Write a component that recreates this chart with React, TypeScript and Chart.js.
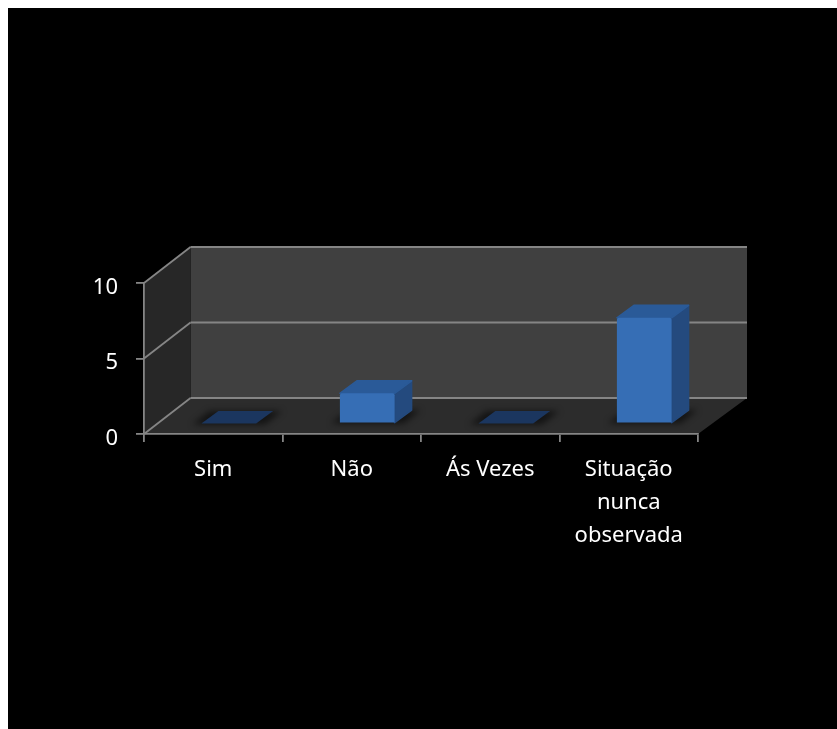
import React, { useEffect, useRef } from "react";
import { Chart, registerables } from "chart.js";

Chart.register(...registerables);

const categories = [["Sim"], ["Não"], ["Ás Vezes"], ["Situação", "nunca", "observada"]];
const seriesValues = [0, 2, 0, 7];
const yTickValues = [0, 5, 10];

const LINE = "#858585";
const WALL_BACK = "#404040";
const WALL_SIDE = "#272727";
const FLOOR = "#2c2c2c";
const BAR_FRONT = "#366eb5";
const BAR_SIDE = "#244a7e";
const BAR_TOP = "#2a5a98";
const BAR_TOP_EMPTY = "#1b365f";

// Projection of the box depth and of the bars inside it, in pixels
const BOX = { dxLeft: 46.5, dxRight: 49, dy: -36 };
const BAR_SHIFT = { x: 15.5, y: -10.5 };
const BAR_DEPTH = { x: 17, y: -12.5 };

function poly(ctx: CanvasRenderingContext2D, pts: number[][], fill: string, rounded = false) {
  ctx.beginPath();
  pts.forEach(([x, y], i) => (i ? ctx.lineTo(x, y) : ctx.moveTo(x, y)));
  ctx.closePath();
  ctx.fillStyle = fill;
  ctx.fill();
  if (rounded) {
    ctx.strokeStyle = fill;
    ctx.lineWidth = 1.5;
    ctx.lineJoin = "round";
    ctx.stroke();
  }
}

function segment(ctx: CanvasRenderingContext2D, x0: number, y0: number, x1: number, y1: number) {
  ctx.beginPath();
  ctx.moveTo(x0, y0);
  ctx.lineTo(x1, y1);
  ctx.strokeStyle = LINE;
  ctx.lineWidth = 1.8;
  ctx.stroke();
}

// Back wall, side wall and floor of the 3-D box, with the grid lines wrapping around them
const boxPlugin = {
  id: "box3d",
  beforeDraw(chart: any) {
    const { ctx, chartArea: a, scales } = chart;
    const y = scales.y;
    const bl = a.left + BOX.dxLeft;
    const br = a.right + BOX.dxRight;
    ctx.save();
    ctx.fillStyle = "#000";
    ctx.fillRect(0, 0, chart.width, chart.height);
    poly(ctx, [[bl, a.top + BOX.dy], [br, a.top + BOX.dy], [br, a.bottom + BOX.dy], [bl, a.bottom + BOX.dy]], WALL_BACK);
    poly(ctx, [[a.left, a.top], [bl, a.top + BOX.dy], [bl, a.bottom + BOX.dy], [a.left, a.bottom]], WALL_SIDE);
    poly(ctx, [[a.left, a.bottom], [bl, a.bottom + BOX.dy], [br, a.bottom + BOX.dy], [a.right, a.bottom]], FLOOR);
    for (const v of yTickValues) {
      const py = y.getPixelForValue(v);
      segment(ctx, a.left, py, bl, py + BOX.dy);
      segment(ctx, bl, py + BOX.dy, br, py + BOX.dy);
    }
    ctx.restore();
  },
  // Soft floor shadows, then the top and side faces behind each front face
  beforeDatasetsDraw(chart: any) {
    const { ctx, chartArea: a } = chart;
    const bars = chart.getDatasetMeta(0).data;
    ctx.save();
    ctx.beginPath();
    ctx.moveTo(a.left, a.bottom);
    ctx.lineTo(a.left + BOX.dxLeft, a.bottom + BOX.dy);
    ctx.lineTo(a.right + BOX.dxRight, a.bottom + BOX.dy);
    ctx.lineTo(a.right, a.bottom);
    ctx.closePath();
    ctx.clip();
    ctx.filter = "blur(3px)";
    bars.forEach((bar: any) => {
      const l = bar.x - bar.width / 2 + BAR_SHIFT.x;
      const r = bar.x + bar.width / 2 + BAR_SHIFT.x;
      const b = bar.base + BAR_SHIFT.y + 1;
      poly(ctx, [
        [l - 9, b],
        [l - 9 + BAR_DEPTH.x, b + BAR_DEPTH.y - 1],
        [r + 9 + BAR_DEPTH.x, b + BAR_DEPTH.y - 1],
        [r + 9, b],
      ], "rgba(0,0,0,0.55)");
    });
    ctx.restore();

    ctx.save();
    seriesValues.forEach((value, i) => {
      const bar = bars[i];
      const l = bar.x - bar.width / 2 + BAR_SHIFT.x;
      const r = bar.x + bar.width / 2 + BAR_SHIFT.x;
      const t = bar.y + BAR_SHIFT.y;
      const b = bar.base + BAR_SHIFT.y;
      if (value > 0) {
        poly(ctx, [[r, t], [r + BAR_DEPTH.x, t + BAR_DEPTH.y], [r + BAR_DEPTH.x, b + BAR_DEPTH.y], [r, b]], BAR_SIDE, true);
      }
      poly(ctx, [[l, t], [l + BAR_DEPTH.x, t + BAR_DEPTH.y], [r + BAR_DEPTH.x, t + BAR_DEPTH.y], [r, t]],
        value > 0 ? BAR_TOP : BAR_TOP_EMPTY, value > 0);
    });
    ctx.restore();
  },
  // The front faces come from the bar elements, moved into the middle of the box depth
  beforeDatasetDraw(chart: any) {
    chart.ctx.save();
    chart.ctx.translate(BAR_SHIFT.x, BAR_SHIFT.y);
  },
  afterDatasetDraw(chart: any) {
    chart.ctx.restore();
  },
};

export default function App() {
  const ref = useRef<HTMLCanvasElement>(null);

  useEffect(() => {
    const font = { family: "'Noto Sans'", size: 22 };
    const chart = new Chart(ref.current as HTMLCanvasElement, {
      type: "bar",
      data: {
        labels: categories as any,
        datasets: [
          {
            data: seriesValues,
            backgroundColor: BAR_FRONT,
            borderWidth: 0,
            borderRadius: 2,
            categoryPercentage: 1,
            barPercentage: 0.395,
            clip: false as any,
          },
        ],
      },
      options: {
        animation: false,
        responsive: false,
        layout: { padding: { left: 0, top: 275, right: 139, bottom: 0 } },
        plugins: { legend: { display: false }, tooltip: { enabled: false } },
        scales: {
          x: {
            afterFit: (s: any) => {
              s.height = 295;
            },
            grid: { drawOnChartArea: false, color: LINE, tickColor: LINE, tickLength: 8, lineWidth: 1.8 },
            border: { color: LINE, width: 1.8 },
            ticks: { color: "#ffffff", font: { ...font, lineHeight: 1.5 }, padding: 11, maxRotation: 0, autoSkip: false },
          },
          y: {
            min: 0,
            max: 10,
            afterFit: (s: any) => {
              s.width = 136;
            },
            grid: { drawOnChartArea: false, color: LINE, tickColor: LINE, tickLength: 8, lineWidth: 1.8 },
            border: { color: LINE, width: 1.8 },
            ticks: { color: "#ffffff", font, padding: 18, stepSize: 5, labelOffset: 4.5 },
          },
        },
      },
      plugins: [boxPlugin],
    });
    return () => chart.destroy();
  }, []);

  return (
    <>
      <style>{"html,body{overflow:hidden;margin:0;background:#000}"}</style>
      <div style={{ borderLeft: "8px solid #fff", borderTop: "8px solid #fff", width: 829, height: 721 }}>
        <canvas ref={ref} width={829} height={721} style={{ display: "block" }} />
      </div>
    </>
  );
}
